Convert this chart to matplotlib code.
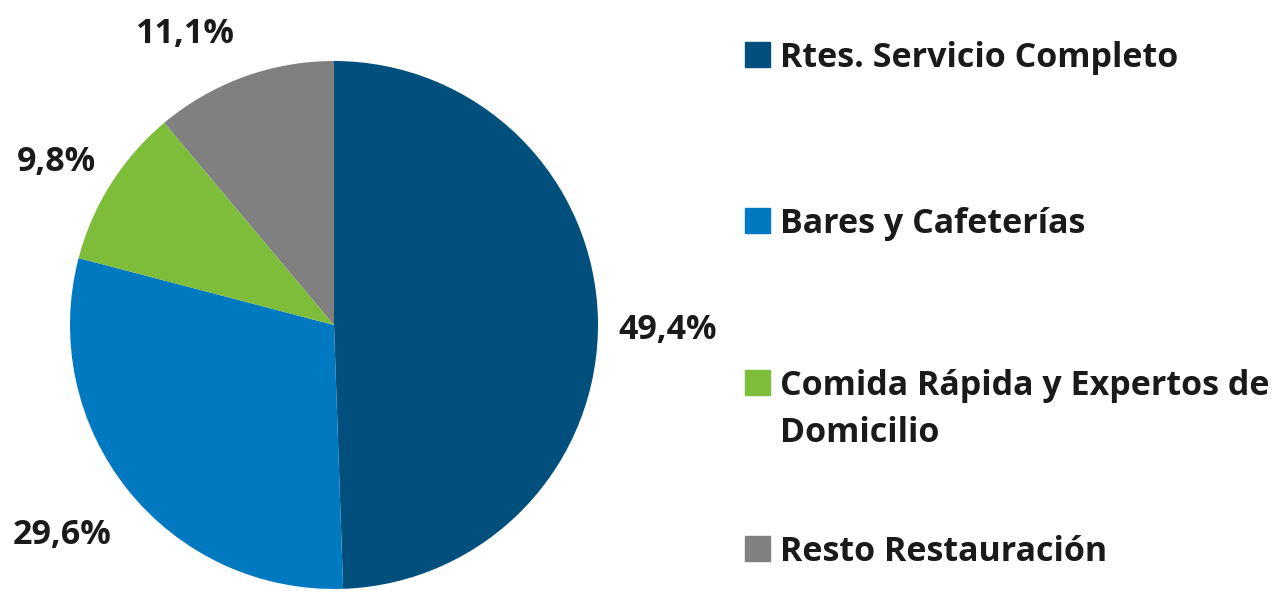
import matplotlib
matplotlib.use("Agg")
import matplotlib.pyplot as plt
import numpy as np
from matplotlib.patches import Rectangle

categories = ["Rtes. Servicio Completo", "Bares y Cafeterías",
              "Comida Rápida y Expertos de\nDomicilio", "Resto Restauración"]
values = [49.4, 29.6, 9.8, 11.1]
colors = ["#004F7C", "#0179C1", "#7DBD3A", "#808080"]

# label placement (style): radial distance and angular nudge per slice
label_r = [1.265, 1.292, 1.225, 1.25]
label_dtheta = [-1.1, -1.5, 1.3, 6.7]

W, H = 1279, 592
plt.rcParams['font.family'] = ['Open Sans', 'DejaVu Sans']
fig = plt.figure(figsize=(W / 100, H / 100), dpi=100)

cx, cy, r = 334, 325, 264
ax = fig.add_axes([(cx - r) / W, (H - cy - r) / H, 2 * r / W, 2 * r / H])
wedges, texts, autotexts = ax.pie(
    values, colors=colors, startangle=90, counterclock=False, radius=1,
    autopct=lambda p: f"{p:.1f}%".replace(".", ","), pctdistance=1.25,
    wedgeprops=dict(linewidth=0))
for w, t, rr, dt in zip(wedges, autotexts, label_r, label_dtheta):
    ang = np.deg2rad((w.theta1 + w.theta2) / 2 + dt)
    t.set_position((rr * np.cos(ang), rr * np.sin(ang)))
    t.set_fontsize(24.5)
    t.set_fontweight("bold")
    t.set_color("#1a1a1a")
    t.set_va("center_baseline")
    t.set_clip_on(False)
ax.set_xlim(-1, 1)
ax.set_ylim(-1, 1)
ax.set_aspect("auto")
ax.axis("off")

# legend (manual layout)
sq_x, sq_w = 745, 25
text_x = 780
baselines = [67, 233, 395, 561]
for cat, col, b in zip(categories, colors, baselines):
    fig.patches.append(Rectangle((sq_x / W, (H - b) / H), sq_w / W, 25 / H,
                                 transform=fig.transFigure, color=col))
    for i, ln in enumerate(cat.split("\n")):
        fig.text(text_x / W, (H - b - 47 * i) / H, ln, fontsize=24.5,
                 fontweight="bold", color="#1a1a1a", va="baseline", ha="left")

fig.savefig("out.png", dpi=100)
